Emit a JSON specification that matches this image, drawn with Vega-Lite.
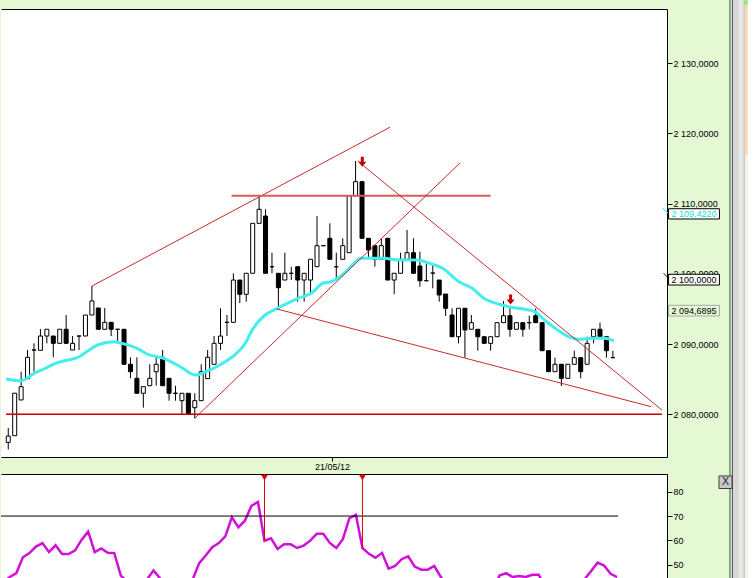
{
  "$schema": "https://vega.github.io/schema/vega-lite/v6.json",
  "background": "#e4f8d4",
  "padding": {"left": 0, "top": 0, "right": 0, "bottom": 0},
  "bounds": "flush",
  "spacing": 17,
  "config": {
    "view": {"stroke": null, "fill": "#ffffff"},
    "axis": {"labelFont": "Liberation Sans", "labelFontSize": 9, "labelColor": "#000000", "tickColor": "#000000", "domainColor": "#000000", "grid": false}
  },
  "datasets": {
    "candles": [
      {"i":1,"o":2076.0,"h":2078.05,"l":2075.0,"c":2076.9},
      {"i":2,"o":2076.95,"h":2083.0,"l":2076.95,"c":2083.0},
      {"i":3,"o":2082.04,"h":2086.06,"l":2082.04,"c":2083.93},
      {"i":4,"o":2085.07,"h":2089.15,"l":2085.07,"c":2088.11},
      {"i":5,"o":2089.15,"h":2090.1,"l":2086.06,"c":2089.15},
      {"i":6,"o":2089.11,"h":2092.14,"l":2089.11,"c":2091.14},
      {"i":7,"o":2091.14,"h":2092.1,"l":2090.1,"c":2092.1},
      {"i":8,"o":2091.14,"h":2091.14,"l":2088.11,"c":2090.1},
      {"i":9,"o":2090.1,"h":2092.1,"l":2090.1,"c":2092.1},
      {"i":10,"o":2092.1,"h":2094.13,"l":2090.1,"c":2090.1},
      {"i":11,"o":2089.15,"h":2091.14,"l":2089.15,"c":2090.1},
      {"i":12,"o":2091.14,"h":2091.14,"l":2089.15,"c":2091.14},
      {"i":13,"o":2091.14,"h":2094.13,"l":2091.14,"c":2094.13},
      {"i":14,"o":2094.13,"h":2098.26,"l":2094.13,"c":2096.13},
      {"i":15,"o":2095.13,"h":2095.13,"l":2092.1,"c":2092.1},
      {"i":16,"o":2092.1,"h":2095.13,"l":2092.1,"c":2093.09},
      {"i":17,"o":2093.09,"h":2093.09,"l":2091.14,"c":2092.1},
      {"i":18,"o":2092.1,"h":2092.1,"l":2090.1,"c":2092.1},
      {"i":19,"o":2092.1,"h":2092.1,"l":2087.12,"c":2087.12},
      {"i":20,"o":2087.12,"h":2088.11,"l":2085.12,"c":2086.06},
      {"i":21,"o":2085.12,"h":2088.11,"l":2082.99,"c":2082.99},
      {"i":22,"o":2082.99,"h":2083.93,"l":2080.94,"c":2083.93},
      {"i":23,"o":2084.07,"h":2087.12,"l":2084.07,"c":2085.12},
      {"i":24,"o":2086.06,"h":2088.11,"l":2084.07,"c":2087.12},
      {"i":25,"o":2088.11,"h":2089.15,"l":2084.07,"c":2084.07},
      {"i":26,"o":2085.12,"h":2085.12,"l":2081.94,"c":2082.99},
      {"i":27,"o":2082.99,"h":2084.07,"l":2081.94,"c":2082.99},
      {"i":28,"o":2081.94,"h":2082.99,"l":2080.0,"c":2082.99},
      {"i":29,"o":2082.99,"h":2082.99,"l":2080.0,"c":2080.0},
      {"i":30,"o":2080.94,"h":2082.99,"l":2079.43,"c":2081.94},
      {"i":31,"o":2081.94,"h":2087.12,"l":2081.94,"c":2086.06},
      {"i":32,"o":2085.07,"h":2089.15,"l":2085.07,"c":2088.11},
      {"i":33,"o":2087.12,"h":2091.14,"l":2087.12,"c":2090.1},
      {"i":34,"o":2090.1,"h":2095.09,"l":2089.15,"c":2091.14},
      {"i":35,"o":2093.09,"h":2094.13,"l":2091.14,"c":2093.09},
      {"i":36,"o":2093.09,"h":2100.07,"l":2093.09,"c":2099.11},
      {"i":37,"o":2099.11,"h":2099.11,"l":2095.84,"c":2097.08},
      {"i":38,"o":2097.08,"h":2100.07,"l":2096.03,"c":2100.07},
      {"i":39,"o":2100.07,"h":2107.18,"l":2100.07,"c":2107.18},
      {"i":40,"o":2107.18,"h":2111.21,"l":2107.18,"c":2109.18},
      {"i":41,"o":2108.22,"h":2109.18,"l":2100.07,"c":2100.07},
      {"i":42,"o":2101.0,"h":2103.0,"l":2100.07,"c":2101.0},
      {"i":43,"o":2100.07,"h":2100.07,"l":2094.84,"c":2098.02},
      {"i":44,"o":2099.11,"h":2103.0,"l":2099.11,"c":2100.07},
      {"i":45,"o":2100.07,"h":2101.0,"l":2099.11,"c":2100.07},
      {"i":46,"o":2101.01,"h":2101.01,"l":2096.03,"c":2099.11},
      {"i":47,"o":2099.11,"h":2100.07,"l":2096.03,"c":2100.07},
      {"i":48,"o":2099.11,"h":2102.06,"l":2097.22,"c":2102.06},
      {"i":49,"o":2101.01,"h":2108.22,"l":2101.01,"c":2104.0},
      {"i":50,"o":2104.0,"h":2104.0,"l":2104.0,"c":2104.0},
      {"i":51,"o":2105.05,"h":2107.18,"l":2102.06,"c":2102.06},
      {"i":52,"o":2101.0,"h":2103.0,"l":2099.11,"c":2101.0},
      {"i":53,"o":2102.06,"h":2105.05,"l":2102.06,"c":2104.0},
      {"i":54,"o":2103.0,"h":2111.11,"l":2103.0,"c":2111.11},
      {"i":55,"o":2111.11,"h":2116.05,"l":2111.11,"c":2113.11},
      {"i":56,"o":2113.11,"h":2113.11,"l":2105.05,"c":2105.05},
      {"i":57,"o":2105.05,"h":2105.05,"l":2102.06,"c":2103.38},
      {"i":58,"o":2104.0,"h":2104.0,"l":2101.0,"c":2102.06},
      {"i":59,"o":2102.06,"h":2105.05,"l":2102.06,"c":2104.0},
      {"i":60,"o":2105.05,"h":2105.05,"l":2099.11,"c":2099.11},
      {"i":61,"o":2099.11,"h":2100.07,"l":2097.08,"c":2100.07},
      {"i":62,"o":2100.07,"h":2103.0,"l":2100.07,"c":2102.06},
      {"i":63,"o":2102.06,"h":2106.23,"l":2102.06,"c":2103.0},
      {"i":64,"o":2103.0,"h":2105.05,"l":2100.07,"c":2100.07},
      {"i":65,"o":2101.11,"h":2103.14,"l":2098.16,"c":2099.01},
      {"i":66,"o":2099.01,"h":2101.49,"l":2099.01,"c":2099.01},
      {"i":67,"o":2100.1,"h":2101.49,"l":2097.93,"c":2100.1},
      {"i":68,"o":2099.11,"h":2099.11,"l":2096.03,"c":2096.98},
      {"i":69,"o":2097.12,"h":2097.12,"l":2093.99,"c":2095.09},
      {"i":70,"o":2094.13,"h":2095.09,"l":2091.04,"c":2091.04},
      {"i":71,"o":2091.04,"h":2095.09,"l":2090.1,"c":2095.09},
      {"i":72,"o":2095.09,"h":2095.09,"l":2088.06,"c":2092.0},
      {"i":73,"o":2092.1,"h":2094.13,"l":2092.1,"c":2093.04},
      {"i":74,"o":2092.1,"h":2092.1,"l":2089.05,"c":2091.04},
      {"i":75,"o":2091.04,"h":2091.04,"l":2090.1,"c":2090.1},
      {"i":76,"o":2090.1,"h":2091.04,"l":2089.05,"c":2091.04},
      {"i":77,"o":2091.04,"h":2093.04,"l":2091.04,"c":2093.04},
      {"i":78,"o":2093.04,"h":2096.13,"l":2093.04,"c":2094.03},
      {"i":79,"o":2094.03,"h":2095.09,"l":2091.04,"c":2092.1},
      {"i":80,"o":2092.1,"h":2093.04,"l":2092.1,"c":2093.04},
      {"i":81,"o":2093.04,"h":2093.04,"l":2091.04,"c":2092.1},
      {"i":82,"o":2093.04,"h":2094.03,"l":2092.1,"c":2093.04},
      {"i":83,"o":2094.03,"h":2095.09,"l":2093.04,"c":2093.04},
      {"i":84,"o":2093.04,"h":2093.04,"l":2089.05,"c":2089.05},
      {"i":85,"o":2089.05,"h":2089.05,"l":2086.06,"c":2086.06},
      {"i":86,"o":2086.06,"h":2088.06,"l":2086.06,"c":2087.12},
      {"i":87,"o":2087.12,"h":2087.12,"l":2084.03,"c":2085.12},
      {"i":88,"o":2085.12,"h":2087.12,"l":2085.12,"c":2087.12},
      {"i":89,"o":2087.12,"h":2089.05,"l":2087.12,"c":2088.06},
      {"i":90,"o":2088.06,"h":2088.06,"l":2085.12,"c":2086.06},
      {"i":91,"o":2087.12,"h":2091.04,"l":2087.12,"c":2090.1},
      {"i":92,"o":2091.04,"h":2092.1,"l":2090.1,"c":2092.1},
      {"i":93,"o":2092.1,"h":2093.04,"l":2091.04,"c":2091.04},
      {"i":94,"o":2091.04,"h":2091.04,"l":2088.06,"c":2089.05},
      {"i":95,"o":2088.06,"h":2089.05,"l":2088.06,"c":2088.06}
    ],
    "ma": [
      {"i":0.65,"ma":2085.02},{"i":2.94,"ma":2084.74},{"i":3.71,"ma":2085.02},{"i":4.78,"ma":2085.69},
      {"i":6.77,"ma":2086.55},{"i":8.3,"ma":2087.26},{"i":9.84,"ma":2087.63},{"i":11.83,"ma":2088.11},
      {"i":13.36,"ma":2089.01},{"i":14.89,"ma":2089.86},{"i":17.49,"ma":2090.33},{"i":18.57,"ma":2090.11},
      {"i":21.02,"ma":2089.39},{"i":22.55,"ma":2088.58},{"i":25.15,"ma":2087.97},{"i":27.75,"ma":2086.77},
      {"i":30.2,"ma":2085.59},{"i":31.73,"ma":2086.06},{"i":33.88,"ma":2087.02},{"i":35.87,"ma":2088.2},
      {"i":37.86,"ma":2090.11},{"i":38.93,"ma":2092.0},{"i":40.92,"ma":2094.13},{"i":42.5,"ma":2094.94},
      {"i":46.08,"ma":2096.51},{"i":48.12,"ma":2097.22},{"i":49.91,"ma":2098.65},{"i":51.18,"ma":2098.87},
      {"i":53.22,"ma":2100.07},{"i":54.75,"ma":2101.49},{"i":55.78,"ma":2102.2},{"i":57.31,"ma":2102.2},
      {"i":59.35,"ma":2102.2},{"i":61.9,"ma":2101.96},{"i":64.46,"ma":2101.96},{"i":66.5,"ma":2101.49},
      {"i":68.53,"ma":2100.78},{"i":71.09,"ma":2098.87},{"i":73.13,"ma":2097.93},{"i":75.18,"ma":2096.37},
      {"i":77.22,"ma":2095.7},{"i":79.26,"ma":2095.23},{"i":81.31,"ma":2094.94},{"i":82.84,"ma":2094.6},
      {"i":84.37,"ma":2093.42},{"i":86.41,"ma":2092.0},{"i":87.94,"ma":2091.14},{"i":89.98,"ma":2090.67},
      {"i":91.51,"ma":2090.82},{"i":93.56,"ma":2090.82},{"i":95.15,"ma":2090.48}
    ],
    "trend": [
      {"k":"a","i1":14.02,"p1":2098.26,"i2":60.37,"p2":2120.87},
      {"k":"h","i1":35.72,"p1":2111.11,"i2":75.99,"p2":2111.11},
      {"k":"a","i1":30.0,"p1":2079.43,"i2":71.24,"p2":2115.78},
      {"k":"a","i1":55.32,"p1":2116.05,"i2":102.64,"p2":2080.6},
      {"k":"a","i1":42.76,"p1":2094.99,"i2":100.95,"p2":2081.08},
      {"k":"b","i1":0.648,"p1":2080.0,"i2":102.64,"p2":2080.0}
    ],
    "arrows": [{"i":56.04,"p":2115.95},{"i":79.1,"p":2096.34}],
    "boxes": [
      {"k":"ma","t":"2 109,4220","i1":103.66,"i2":111.57,"ic":107.61,"pt":2109.26,"pb":2107.8,"pc":2108.54},
      {"k":"lvl","t":"2 100,0000","i1":103.66,"i2":111.57,"ic":107.61,"pt":2099.93,"pb":2098.4,"pc":2099.16},
      {"k":"last","t":"2 094,6895","i1":103.66,"i2":111.57,"ic":107.61,"pt":2095.51,"pb":2093.99,"pc":2094.75}
    ],
    "leaders": [
      {"k":"ma","i1":102.7,"p1":2109.35,"i2":103.66,"p2":2108.58},
      {"k":"lvl","i1":102.9,"p1":2100.07,"i2":103.66,"p2":2099.36}
    ],
    "strip": [
      {"k":"edge","i1":113.05,"i2":113.36,"pt":2138.97,"pb":2056.7},
      {"k":"line","i1":113.51,"i2":113.66,"pt":2138.97,"pb":2056.7},
      {"k":"grey1","i1":113.66,"i2":114.59,"pt":2138.97,"pb":2056.7},
      {"k":"grey2","i1":114.59,"i2":115.35,"pt":2138.97,"pb":2056.7},
      {"k":"sep","i1":115.35,"i2":115.5,"pt":2138.97,"pb":2056.7},
      {"k":"pane","i1":115.5,"i2":115.96,"pt":2138.97,"pb":2056.7},
      {"k":"peach","i1":115.5,"i2":115.96,"pt":2138.26,"pb":2116.91},
      {"k":"lime","i1":115.35,"i2":115.96,"pt":2138.97,"pb":2138.26}
    ],
    "rsi": [
      {"i":1,"v":43},{"i":2,"v":45.0},{"i":3,"v":46.6},{"i":4,"v":53.1},{"i":5,"v":54.8},
      {"i":6,"v":57.5},{"i":7,"v":58.9},{"i":8,"v":55.2},{"i":9,"v":58.0},{"i":10,"v":54.4},
      {"i":11,"v":54.4},{"i":12,"v":55.9},{"i":13,"v":60.3},{"i":14,"v":63.6},{"i":15,"v":55.2},
      {"i":16,"v":56.7},{"i":17,"v":54.9},{"i":18,"v":54.8},{"i":19,"v":45.6},{"i":20,"v":43},
      {"i":21,"v":41},{"i":22,"v":42},{"i":23,"v":44},{"i":24,"v":47.7},{"i":25,"v":44.5},
      {"i":26,"v":41},{"i":27,"v":42},{"i":28,"v":41},{"i":29,"v":39},{"i":30,"v":44},
      {"i":31,"v":50.7},{"i":32,"v":53.8},{"i":33,"v":57.2},{"i":34,"v":58.9},{"i":35,"v":61.7},
      {"i":36,"v":69.5},{"i":37,"v":65.4},{"i":38,"v":68.1},{"i":39,"v":74.2},{"i":40,"v":75.8},
      {"i":41,"v":59.9},{"i":42,"v":60.9},{"i":43,"v":56.5},{"i":44,"v":58.4},{"i":45,"v":58.4},
      {"i":46,"v":56.9},{"i":47,"v":57.9},{"i":48,"v":59.9},{"i":49,"v":62.7},{"i":50,"v":62.7},
      {"i":51,"v":59.0},{"i":52,"v":56.9},{"i":53,"v":60.5},{"i":54,"v":69.1},{"i":55,"v":70.5},
      {"i":56,"v":56.9},{"i":57,"v":54.5},{"i":58,"v":52.9},{"i":59,"v":54.9},{"i":60,"v":48.4},
      {"i":61,"v":49.5},{"i":62,"v":52.3},{"i":63,"v":53.5},{"i":64,"v":49.3},{"i":65,"v":48.0},
      {"i":66,"v":48.0},{"i":67,"v":49.5},{"i":68,"v":45.0},{"i":69,"v":42},{"i":70,"v":40},
      {"i":71,"v":42},{"i":72,"v":40},{"i":73,"v":41},{"i":74,"v":40},{"i":75,"v":39},
      {"i":76,"v":40},{"i":77,"v":45.6},{"i":78,"v":46.6},{"i":79,"v":45.0},{"i":80,"v":45.4},
      {"i":81,"v":45.0},{"i":82,"v":45.9},{"i":83,"v":45.9},{"i":84,"v":41},{"i":85,"v":38},
      {"i":86,"v":37},{"i":87,"v":38},{"i":88,"v":37},{"i":89,"v":40},{"i":90,"v":44},
      {"i":91,"v":47.4},{"i":92,"v":50.9},{"i":93,"v":49.7},{"i":94,"v":46.3},{"i":95,"v":45.0}
    ],
    "lvl70": [{"i1":0.648,"i2":95.15,"v":70}],
    "sig": [{"i":41,"v":59.9},{"i":56,"v":56.9}],
    "btn": [{"i1":110.6,"i2":112.6,"ic":111.6,"v1":86.45,"v2":81.3,"vc":83.9,"t":"X"}]
  },
  "vconcat": [
    {
      "width": 666,
      "height": 448,
      "resolve": {"axis": {"x": "independent", "y": "independent"}},
      "layer": [
        {
          "data": {"name": "strip"},
          "mark": {"type": "rect"},
          "encoding": {
            "x": {"field": "i1", "type": "quantitative", "title": null, "scale": {"domain": [0.648, 102.64], "nice": false, "zero": false}, "axis": null},
            "x2": {"field": "i2"},
            "y": {"field": "pt", "type": "quantitative", "title": null, "scale": {"domain": [2073.92, 2137.69], "nice": false, "zero": false}, "axis": null},
            "y2": {"field": "pb"},
            "fill": {"field": "k", "type": "nominal", "legend": null,
              "scale": {"domain": ["edge", "line", "grey1", "grey2", "sep", "pane", "peach", "lime"],
                        "range": ["#86a886", "#303030", "#d8d8d8", "#e8e8e8", "#a0a0a0", "#f2f2f2", "#fcd8b0", "#a8e080"]}}
          }
        },
        {
          "data": {"name": "candles"},
          "mark": {"type": "rule", "color": "#000000", "strokeWidth": 1, "clip": true},
          "encoding": {
            "x": {"field": "i", "type": "quantitative", "title": null,
              "axis": {"orient": "bottom", "title": null, "values": [51.34], "labelExpr": "'21/05/12'", "tickSize": 4, "labelPadding": 1, "domain": true, "ticks": true, "labels": true, "labelFontSize": 9}},
            "y": {"field": "l", "type": "quantitative", "title": null,
              "axis": {"orient": "right", "title": null, "values": [2080, 2090, 2100, 2110, 2120, 2130], "labelExpr": "replace(replace(format(datum.value, ',.4f'), ',', ' '), '.', ',')", "tickSize": 5, "labelPadding": 1, "domain": true, "labelFontSize": 9}},
            "y2": {"field": "h"}
          }
        },
        {
          "data": {"name": "candles"},
          "mark": {"type": "bar", "width": 4, "stroke": "#000000", "strokeWidth": 1, "clip": true},
          "encoding": {
            "x": {"field": "i", "type": "quantitative", "title": null, "axis": null},
            "y": {"field": "o", "type": "quantitative", "title": null, "axis": null},
            "y2": {"field": "c"},
            "fill": {"condition": {"test": "datum.c > datum.o", "value": "#ffffff"}, "value": "#000000"}
          }
        },
        {
          "data": {"name": "ma"},
          "mark": {"type": "line", "color": "#44eeee", "strokeWidth": 3, "interpolate": "monotone", "clip": true},
          "encoding": {
            "x": {"field": "i", "type": "quantitative", "title": null, "axis": {"orient": "top", "title": null, "labels": false, "ticks": false, "domain": true}},
            "y": {"field": "ma", "type": "quantitative", "title": null, "axis": null}
          }
        },
        {
          "data": {"name": "trend"},
          "mark": {"type": "rule", "clip": true},
          "encoding": {
            "x": {"field": "i1", "type": "quantitative", "title": null, "axis": null},
            "x2": {"field": "i2"},
            "y": {"field": "p1", "type": "quantitative", "title": null, "axis": null},
            "y2": {"field": "p2"},
            "color": {"condition": [{"test": "datum.k === 'h'", "value": "#d85a5a"}, {"test": "datum.k === 'b'", "value": "#cc0000"}], "value": "#cc2a2a"},
            "strokeWidth": {"condition": [{"test": "datum.k === 'h'", "value": 2}, {"test": "datum.k === 'b'", "value": 1.5}], "value": 1}
          }
        },
        {
          "data": {"name": "arrows"},
          "mark": {"type": "point", "shape": "M-0.3,-1L0.3,-1L0.3,0L0.8,0L0,1L-0.8,0L-0.3,0Z", "filled": true, "color": "#c00000", "size": 100, "opacity": 1, "strokeWidth": 0},
          "encoding": {
            "x": {"field": "i", "type": "quantitative", "title": null, "axis": null},
            "y": {"field": "p", "type": "quantitative", "title": null, "axis": null}
          }
        },
        {
          "data": {"name": "leaders"},
          "mark": {"type": "rule", "strokeWidth": 1},
          "encoding": {
            "x": {"field": "i1", "type": "quantitative", "title": null, "axis": null},
            "x2": {"field": "i2"},
            "y": {"field": "p1", "type": "quantitative", "title": null, "axis": null},
            "y2": {"field": "p2"},
            "color": {"condition": {"test": "datum.k === 'ma'", "value": "#22dddd"}, "value": "#000000"}
          }
        },
        {
          "data": {"name": "boxes"},
          "mark": {"type": "rect", "strokeWidth": 1},
          "encoding": {
            "x": {"field": "i1", "type": "quantitative", "title": null, "axis": null},
            "x2": {"field": "i2"},
            "y": {"field": "pt", "type": "quantitative", "title": null, "axis": null},
            "y2": {"field": "pb"},
            "fill": {"condition": {"test": "datum.k === 'last'", "value": "#e4f8d4"}, "value": "#ffffff"},
            "stroke": {"condition": {"test": "datum.k === 'last'", "value": "#a8a8a8"}, "value": "#000000"}
          }
        },
        {
          "data": {"name": "boxes"},
          "mark": {"type": "text", "font": "Liberation Sans", "fontSize": 9, "align": "center", "baseline": "middle"},
          "encoding": {
            "x": {"field": "ic", "type": "quantitative", "title": null, "axis": null},
            "y": {"field": "pc", "type": "quantitative", "title": null, "axis": null},
            "text": {"field": "t"},
            "color": {"condition": {"test": "datum.k === 'ma'", "value": "#11dddd"}, "value": "#000000"}
          }
        }
      ]
    },
    {
      "width": 666,
      "height": 104,
      "resolve": {"axis": {"x": "independent", "y": "independent"}},
      "layer": [
        {
          "data": {"name": "rsi"},
          "mark": {"type": "line", "color": "#d010d8", "strokeWidth": 2.5, "clip": true},
          "encoding": {
            "x": {"field": "i", "type": "quantitative", "title": null, "scale": {"domain": [0.648, 102.64], "nice": false, "zero": false},
              "axis": {"orient": "top", "title": null, "labels": false, "ticks": false, "domain": true}},
            "y": {"field": "v", "type": "quantitative", "title": null, "scale": {"domain": [44.59, 87.25], "nice": false, "zero": false},
              "axis": {"orient": "right", "title": null, "values": [50, 60, 70, 80], "tickSize": 5, "labelPadding": 1, "domain": true, "labelFontSize": 9}}
          }
        },
        {
          "data": {"name": "lvl70"},
          "mark": {"type": "rule", "color": "#000000", "strokeWidth": 1},
          "encoding": {
            "x": {"field": "i1", "type": "quantitative", "title": null, "axis": null},
            "x2": {"field": "i2"},
            "y": {"field": "v", "type": "quantitative", "title": null, "axis": null}
          }
        },
        {
          "data": {"name": "sig"},
          "mark": {"type": "rule", "color": "#e00000", "strokeWidth": 1},
          "encoding": {
            "x": {"field": "i", "type": "quantitative", "title": null, "axis": null},
            "y": {"field": "v", "type": "quantitative", "title": null, "axis": null},
            "y2": {"datum": 87.25}
          }
        },
        {
          "data": {"name": "sig"},
          "mark": {"type": "point", "shape": "triangle-down", "filled": true, "color": "#e00000", "size": 45, "opacity": 1, "strokeWidth": 0},
          "encoding": {
            "x": {"field": "i", "type": "quantitative", "title": null, "axis": null},
            "y": {"datum": 85.8, "type": "quantitative", "title": null, "axis": null}
          }
        },
        {
          "data": {"name": "btn"},
          "mark": {"type": "rect", "fill": "#c8c8c8", "stroke": "#404040", "strokeWidth": 1},
          "encoding": {
            "x": {"field": "i1", "type": "quantitative", "title": null, "axis": null},
            "x2": {"field": "i2"},
            "y": {"field": "v1", "type": "quantitative", "title": null, "axis": null},
            "y2": {"field": "v2"}
          }
        },
        {
          "data": {"name": "btn"},
          "mark": {"type": "text", "font": "DejaVu Sans", "fontSize": 11, "color": "#303030", "align": "center", "baseline": "middle"},
          "encoding": {
            "x": {"field": "ic", "type": "quantitative", "title": null, "axis": null},
            "y": {"field": "vc", "type": "quantitative", "title": null, "axis": null},
            "text": {"field": "t"}
          }
        }
      ]
    }
  ]
}
